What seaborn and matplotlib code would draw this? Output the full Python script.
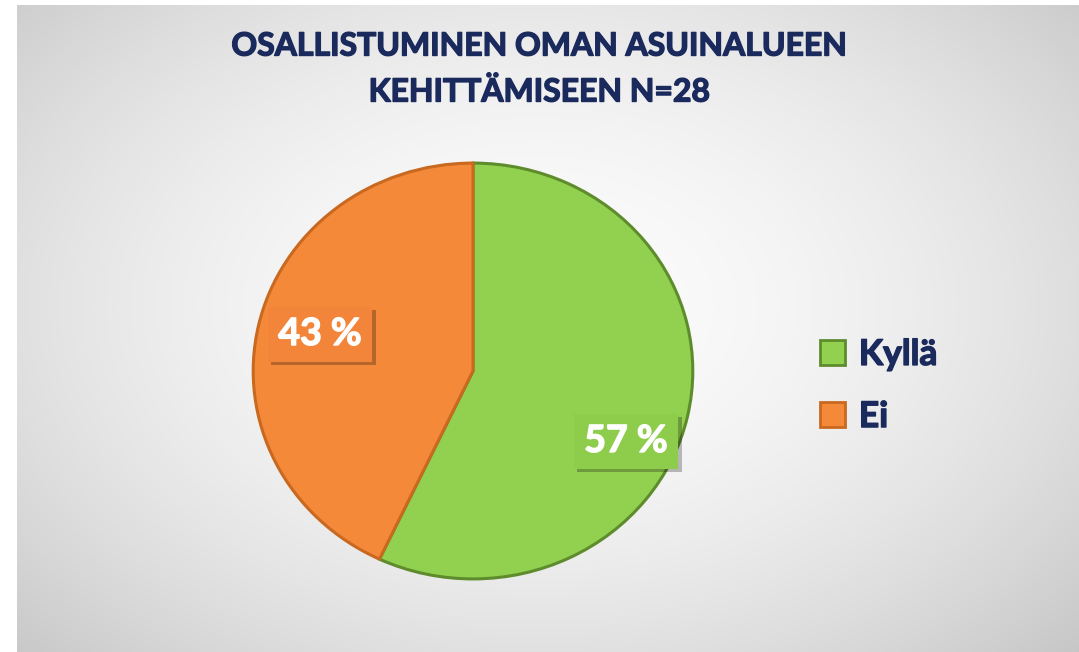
import numpy as np
import matplotlib
matplotlib.use("Agg")
import matplotlib.pyplot as plt
import matplotlib.patheffects as pe
from matplotlib.patches import Patch
import seaborn as sns

# ---- data ----
categories = ["Kyllä", "Ei"]
values = [57, 43]
value_labels = ["57 %", "43 %"]
title_lines = ["OSALLISTUMINEN OMAN ASUINALUEEN", "KEHITTÄMISEEN N=28"]

sns.set_theme(style="white")
plt.rcParams["font.family"] = ["Lato", "DejaVu Sans"]

colors = ["#92d050", "#f5893a"]
edge_colors = ["#5e8c2c", "#c9681f"]
navy = "#1b2a5c"

W, H = 1079, 652
fig = plt.figure(figsize=(W / 100, H / 100), dpi=100)
fig.patch.set_facecolor("white")

# background panel with radial gradient
px0, py0 = 17, 5
bg = fig.add_axes([px0 / W, 0, 1 - px0 / W, (H - py0) / H])
bw, bh = W - px0, H - py0
xx, yy = np.meshgrid(np.arange(bw), np.arange(bh))
cx, cy, rx, ry = 520, 300, 560, 380
d = np.sqrt(((xx - cx) / rx) ** 2 + ((yy - cy) / ry) ** 2)
g = np.clip(252 - 32 * d ** 1.8, 185, 255) / 255.0
img = np.dstack([g, g, g])
bg.imshow(img, aspect="auto", interpolation="bilinear")
bg.set_axis_off()

# pie axes
pcx, pcy, prx, pry = 473, 371, 222, 210
ax = fig.add_axes([(pcx - prx) / W, 1 - (pcy + pry) / H, 2 * prx / W, 2 * pry / H])
wedges, _ = ax.pie(values, colors=colors, startangle=90, counterclock=False,
                   wedgeprops=dict(linewidth=2.2, edgecolor="none"))
for w, ec in zip(wedges, edge_colors):
    w.set_edgecolor(ec)
ax.set_aspect("auto")
ax.set_xlim(-1.01, 1.01)
ax.set_ylim(-1.01, 1.01)
ax.set_axis_off()

thick_white = [pe.withStroke(linewidth=1.0, foreground="white")]
thick_navy = [pe.withStroke(linewidth=1.0, foreground=navy)]

# value labels
label_pos = [(626, 441), (320, 334)]
box_colors = ["#8ecd4c", "#f3853a"]
for (lx, ly), lab, bc in zip(label_pos, value_labels, box_colors):
    t = fig.text(lx / W, 1 - ly / H, lab, ha="center", va="center", color="white",
                 fontsize=27, fontweight="bold", path_effects=thick_white,
                 bbox=dict(boxstyle="square,pad=0.28", facecolor=bc, edgecolor="none"))
    t.get_bbox_patch().set_path_effects([
        pe.SimplePatchShadow(offset=(2.5, -2.5), shadow_rgbFace="#000000", alpha=0.25),
        pe.Normal()])

# title
fig.text(540 / W, 1 - 46 / H, title_lines[0], ha="center", va="center",
         color=navy, fontsize=23, fontweight="bold", path_effects=thick_navy)
fig.text(540 / W, 1 - 92 / H, title_lines[1], ha="center", va="center",
         color=navy, fontsize=23, fontweight="bold", path_effects=thick_navy)

# legend
handles = [Patch(facecolor=c, edgecolor=e, linewidth=2) for c, e in zip(colors, edge_colors)]
leg = fig.legend(handles, categories, loc="center left",
                 bbox_to_anchor=(788 / W, 1 - 386 / H), frameon=False,
                 prop=dict(size=25.5, weight="bold"), handlelength=0.7, handleheight=0.7,
                 handletextpad=0.4, labelspacing=0.85)
for txt in leg.get_texts():
    txt.set_color(navy)
    txt.set_path_effects(thick_navy)

fig.savefig("out.png", dpi=100, facecolor=fig.get_facecolor())
